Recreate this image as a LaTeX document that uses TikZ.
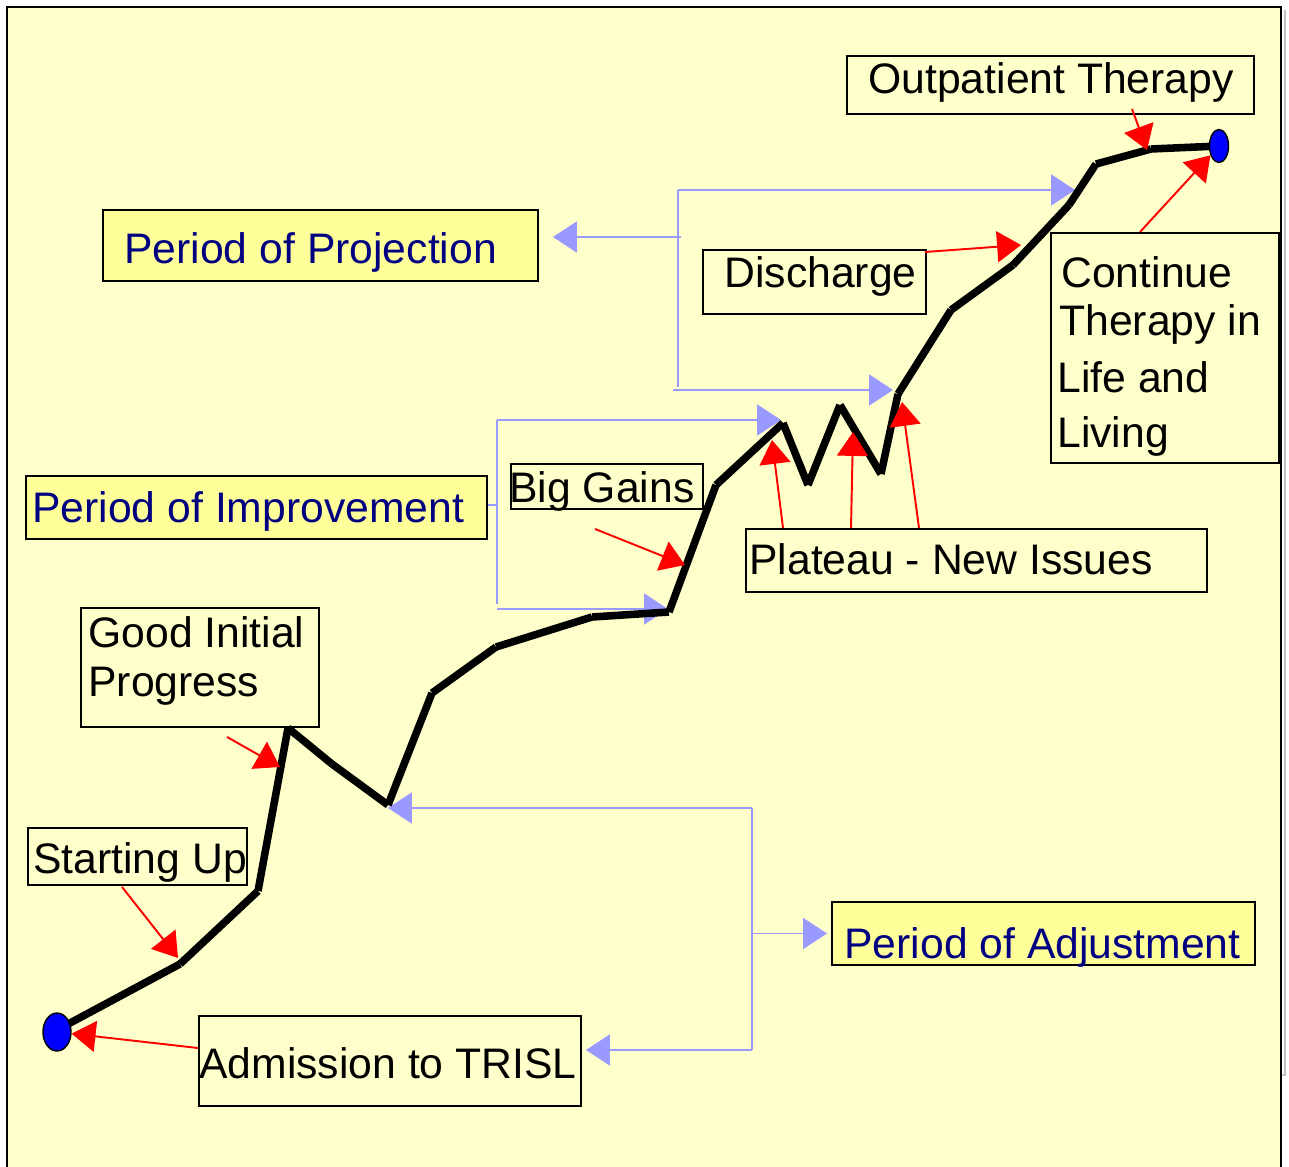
\documentclass[tikz,border=0pt]{standalone}
\usepackage{fontspec}
\setmainfont{Liberation Sans}
\usetikzlibrary{arrows.meta,shapes.geometric,calc}
\definecolor{pagebg}{HTML}{FFFFCC}
\definecolor{periodfill}{HTML}{FFFF99}
\definecolor{periodtext}{HTML}{000080}
\definecolor{linkblue}{HTML}{9999FF}
\definecolor{shadowgray}{HTML}{C0C0C0}

\begin{document}
\begin{tikzpicture}[x={(0.02cm,0)}, y={(0,-0.02cm)},
  every node/.style={font=\fontsize{24.3}{28}\selectfont},
  box/.style={draw=black, line width=1.1pt, rectangle, inner sep=0pt, anchor=north west},
  period/.style={box, fill=periodfill},
  wh/.style 2 args={minimum width=#1*0.02cm, minimum height=#2*0.02cm},
  txt/.style={anchor=base west, inner sep=0pt, text=black},
  ptxt/.style={txt, text=periodtext},
  trail/.style={line width=4.3pt, line cap=butt, black},
  dot/.style={ellipse, draw=black, line width=0.8pt, fill=blue, inner sep=0pt},
  tipped/.style={-{Triangle[length=13.6pt,width=17.6pt]}},
  redarrow/.style={tipped, draw=red, line width=1.1pt},
  blueline/.style={draw=linkblue, line width=1.1pt},
  bluearrow/.style={blueline, tipped}]

\useasboundingbox (0,0) rectangle (1289,1167);
\clip (0,0) rectangle (1289,1167);

% slide frame with its shadow
\draw[shadowgray, line width=1.6pt] (1285,10) -- (1285,1075) -- (1281,1075);
\draw[black, line width=1.5pt, fill=pagebg] (7,7) rectangle (1281,1240);

% points along the progress trail
\coordinate (k0) at (57,1030);
\coordinate (k1) at (180,964);
\coordinate (k2) at (258,891);
\coordinate (k3) at (288,728);
\coordinate (k4) at (332,764);
\coordinate (k5) at (388,805);
\coordinate (k6) at (432,693);
\coordinate (k7) at (496,647);
\coordinate (k8) at (592,617);
\coordinate (k9) at (669,612);
\coordinate (k10) at (716,485);
\coordinate (k11) at (783,423);
\coordinate (k12) at (808,485);
\coordinate (k13) at (840,405);
\coordinate (k14) at (881,474);
\coordinate (k15) at (898,394);
\coordinate (k16) at (951,310);
\coordinate (k17) at (1013,265);
\coordinate (k18) at (1069,205);
\coordinate (k19) at (1096,164);
\coordinate (k20) at (1151,149);
\coordinate (k21) at (1219,146);

% boxes
\node[box, wh={407}{58}] (outp) at (846,55) {};
\node[period, wh={435}{71}] (proj) at (102,209) {};
\node[box, wh={223}{64}] (disc) at (702,249) {};
\node[box, wh={228}{230}] (cont) at (1050,232) {};
\node[period, wh={461}{63}] (impr) at (25,475) {};
\node[box, wh={192}{45}] (gain) at (510,463) {};
\node[box, wh={461}{63}] (plat) at (745,528) {};
\node[box, wh={238}{119}] (good) at (80,607) {};
\node[box, wh={219}{57}] (start) at (27,827) {};
\node[period, wh={423}{63}] (adj) at (831,901) {};
\node[box, wh={382}{90}] (adm) at (198,1015) {};

% texts
\node[txt] (outp-t) at (868,93) {Outpatient Therapy};
\node[ptxt] (proj-t) at (124,263) {Period of Projection};
\node[txt] (disc-t) at (724,287) {Discharge};
\node[txt] (cont-t1) at (1061,287) {Continue};
\node[txt] (cont-t2) at (1059,335) {Therapy in};
\node[txt] (cont-t3) at (1057,392) {Life and};
\node[txt] (cont-t4) at (1057,447) {Living};
\node[ptxt] (impr-t) at (32,522) {Period of Improvement};
\node[txt] (gain-t) at (509,502) {Big Gains};
\node[txt] (plat-t) at (749,574) {Plateau - New Issues};
\node[txt] (good-t1) at (88,647) {Good Initial};
\node[txt] (good-t2) at (88,696) {Progress};
\node[txt] (start-t) at (33,873) {Starting Up};
\node[ptxt] (adj-t) at (844,958) {Period of Adjustment};
\node[txt] (adm-t) at (199,1078) {Admission to TRISL};

% bracket connectors for the three periods
\coordinate (pjtop) at (678,190);
\coordinate (pjbot) at (678,387);
\coordinate (pjmid) at (681,237);
\draw[blueline] (pjtop) -- (pjbot);
\draw[bluearrow] (pjtop) -- (1075,190);
\draw[bluearrow] (673,390) -- (893,390);
\draw[bluearrow, shorten >=0.28cm] (pjmid) -- (pjmid -| proj.east);

\coordinate (imtop) at (497,420);
\coordinate (imbot) at (497,604);
\draw[blueline] (imtop) -- (imbot);
\draw[bluearrow] (imtop) -- (781,420);
\draw[bluearrow] (497,609) -- (668,609);
\draw[blueline] (impr.east |- 0,505) -- (imtop |- 0,505);

\coordinate (adtop) at (752,808);
\coordinate (adbot) at (752,1050);
\draw[blueline] (adtop) -- (adbot);
\draw[bluearrow] (adtop) -- (388,808);
\draw[bluearrow, shorten >=0.08cm] (adtop |- adj.west) -- (adj.west);
\draw[bluearrow, shorten >=0.08cm] (adbot) -- (adbot -| adm.east);

% the progress trail
\foreach \a/\b in {0/1,1/2,2/3,3/4,4/5,5/6,6/7,7/8,8/9,9/10,10/11,11/12,12/13,13/14,14/15,15/16,16/17,17/18,18/19,19/20,20/21}
  \draw[trail] (k\a) -- (k\b);
\node[dot, minimum width=0.56cm, minimum height=0.76cm] (sd) at (57,1032) {};
\node[dot, minimum width=0.38cm, minimum height=0.66cm] (ed) at (1219,146) {};

% pointers from the labels
\draw[redarrow] ($(outp.south west)+(286,-6)$) -- (1147,150);
\draw[redarrow] ($(cont.north west)+(90,0)$) -- (ed);
\draw[redarrow] ($(disc.north east)+(-2,3)$) -- (1021,245);
\draw[redarrow] ($(plat.north west)+(38,0)$) -- (772,440);
\draw[redarrow] ($(plat.north west)+(106,0)$) -- (853,432);
\draw[redarrow] ($(plat.north west)+(174,0)$) -- (902,402);
\draw[redarrow] ($(gain.south west)+(85,19)$) -- (685,565);
\draw[redarrow] ($(good.south west)+(147,9)$) -- (280,767);
\draw[redarrow] ($(start.south west)+(95,1)$) -- (178,958);
\draw[redarrow] ($(adm.north west)+(0,33)$) -- (sd);

\end{tikzpicture}
\end{document}
